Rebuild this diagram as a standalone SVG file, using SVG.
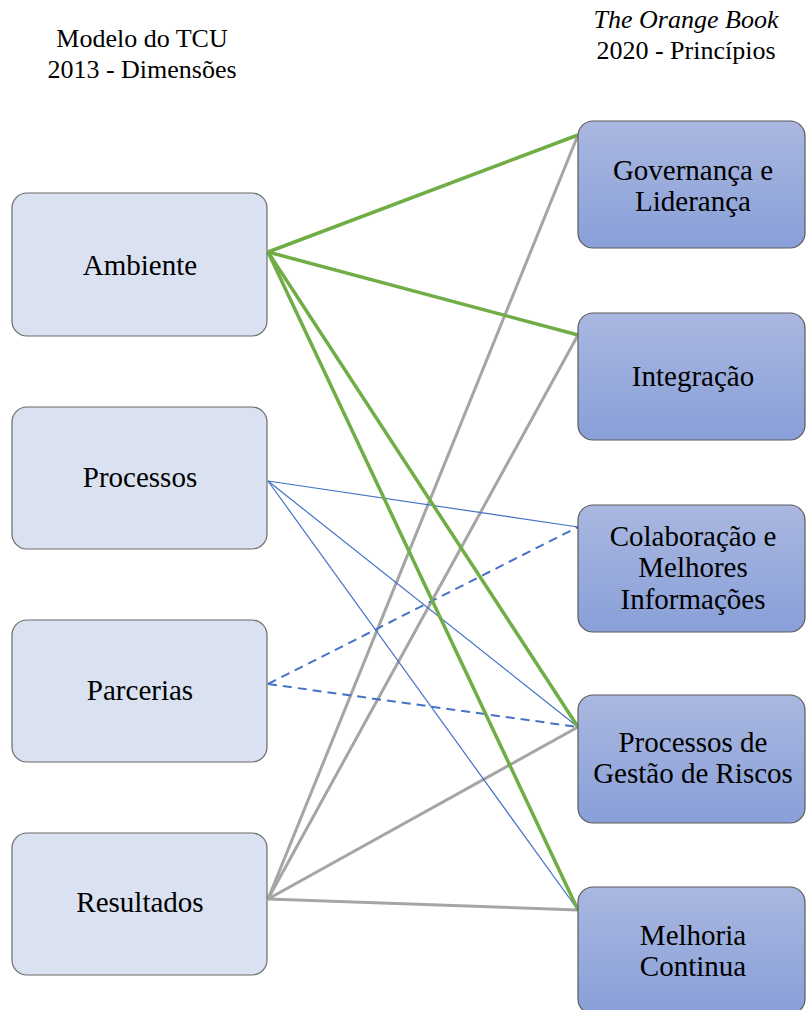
<svg xmlns="http://www.w3.org/2000/svg" width="806" height="1010" viewBox="0 0 806 1010">
  <style>
    text { font-family: 'Liberation Serif', 'Times New Roman', Times, 'DejaVu Serif', serif; font-size: 29px; fill: #000; text-anchor: middle; }
    .head text { font-size: 26px; }
    .src rect { fill: #dae1f0; stroke: #6b6b6b; stroke-width: 1.2; }
    .dst rect { fill: url(#blueGrad); stroke: #5b5b5b; stroke-width: 1.2; }
    .g { stroke: #70ad47; stroke-width: 3.5; fill: none; }
    .gr { stroke: #a5a5a5; stroke-width: 3; fill: none; }
    .b { stroke: #4472c4; stroke-width: 1.2; fill: none; }
    .bd { stroke: #4472c4; stroke-width: 2; fill: none; stroke-dasharray: 9 6; }
  </style>
  <defs>
    <linearGradient id="blueGrad" x1="0" y1="0" x2="0" y2="1">
      <stop offset="0" stop-color="#aab8e0"/>
      <stop offset="1" stop-color="#889fd8"/>
    </linearGradient>
  </defs>
  <rect width="806" height="1010" fill="#fff"/>

  <!-- column headings -->
  <g id="heading-left" class="head">
    <text x="142" y="47">Modelo do TCU</text>
    <text x="142" y="78">2013 - Dimensões</text>
  </g>
  <g id="heading-right" class="head">
    <text x="686" y="28" font-style="italic">The Orange Book</text>
    <text x="686" y="59">2020 - Princípios</text>
  </g>

  <!-- connectors -->
  <g id="connectors">
    <line class="gr" x1="268" y1="899" x2="578" y2="135"/>
    <line class="gr" x1="268" y1="899" x2="578" y2="335"/>
    <line class="gr" x1="268" y1="899" x2="578" y2="727" stroke-width="2.5"/>
    <line class="gr" x1="268" y1="899" x2="578" y2="910" stroke-width="3.5"/>
    <line class="b" x1="268" y1="481" x2="578" y2="527"/>
    <line class="b" x1="268" y1="481" x2="578" y2="727"/>
    <line class="b" x1="268" y1="481" x2="578" y2="910"/>
    <line class="bd" x1="268" y1="684" x2="578" y2="527"/>
    <line class="bd" x1="268" y1="684" x2="578" y2="727"/>
    <line class="g" x1="268" y1="252" x2="578" y2="135"/>
    <line class="g" x1="268" y1="252" x2="578" y2="335"/>
    <line class="g" x1="268" y1="252" x2="578" y2="727"/>
    <line class="g" x1="268" y1="252" x2="578" y2="910"/>
  </g>

  <!-- left column: dimensions -->
  <g id="ambiente" class="src">
    <rect x="12" y="193" width="255" height="143" rx="15"/>
    <text x="140" y="275">Ambiente</text>
  </g>
  <g id="processos" class="src">
    <rect x="12" y="407" width="255" height="142" rx="15"/>
    <text x="140" y="487">Processos</text>
  </g>
  <g id="parcerias" class="src">
    <rect x="12" y="620" width="255" height="142" rx="15"/>
    <text x="140" y="700">Parcerias</text>
  </g>
  <g id="resultados" class="src">
    <rect x="12" y="833" width="255" height="142" rx="15"/>
    <text x="140" y="912">Resultados</text>
  </g>

  <!-- right column: principles -->
  <g id="governanca" class="dst">
    <rect x="578" y="121" width="227" height="127" rx="15"/>
    <text x="693" y="180">Governança e</text>
    <text x="693" y="211">Liderança</text>
  </g>
  <g id="integracao" class="dst">
    <rect x="578" y="313" width="227" height="127" rx="15"/>
    <text x="693" y="386">Integração</text>
  </g>
  <g id="colaboracao" class="dst">
    <rect x="578" y="505" width="227" height="127" rx="15"/>
    <text x="693" y="546">Colaboração e</text>
    <text x="693" y="577">Melhores</text>
    <text x="693" y="609">Informações</text>
  </g>
  <g id="gestao-riscos" class="dst">
    <rect x="578" y="695" width="227" height="128" rx="15"/>
    <text x="693" y="752">Processos de</text>
    <text x="693" y="783">Gestão de Riscos</text>
  </g>
  <g id="melhoria" class="dst">
    <rect x="578" y="887" width="227" height="127" rx="15"/>
    <text x="693" y="945">Melhoria</text>
    <text x="693" y="976">Continua</text>
  </g>
</svg>
